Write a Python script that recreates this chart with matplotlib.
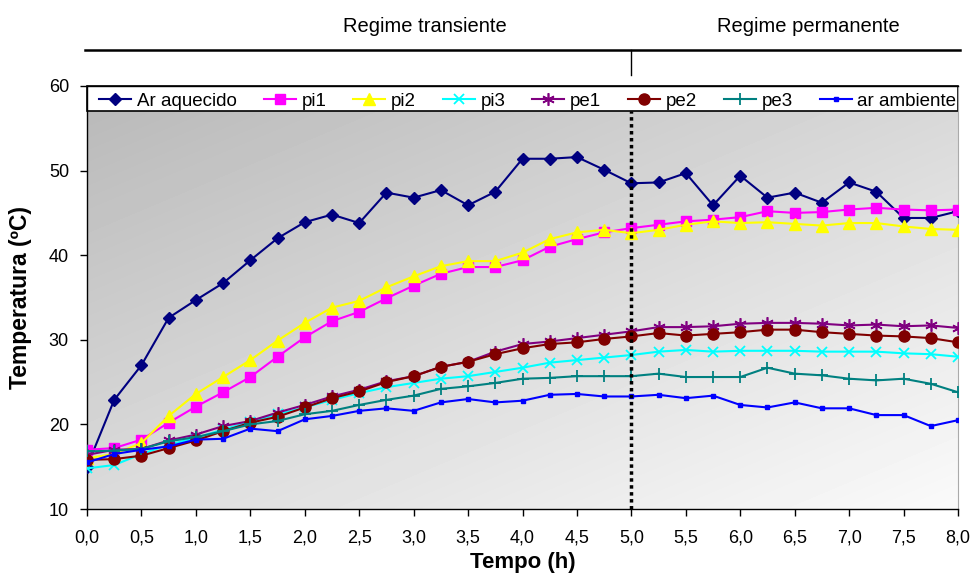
import numpy as np
import matplotlib
matplotlib.use("Agg")
import matplotlib.pyplot as plt
from matplotlib.lines import Line2D

plt.rcParams['font.family'] = ['Liberation Sans', 'DejaVu Sans']

tempo = [0.0, 0.25, 0.5, 0.75, 1.0, 1.25, 1.5, 1.75, 2.0, 2.25, 2.5, 2.75, 3.0, 3.25,
         3.5, 3.75, 4.0, 4.25, 4.5, 4.75, 5.0, 5.25, 5.5, 5.75, 6.0, 6.25, 6.5, 6.75,
         7.0, 7.25, 7.5, 7.75, 8.0]

ar_aquecido = [15.0, 22.9, 27.0, 32.6, 34.7, 36.7, 39.4, 42.0, 43.9, 44.8, 43.8, 47.4, 46.8,
               47.7, 45.9, 47.5, 51.4, 51.4, 51.6, 50.1, 48.5, 48.6, 49.7, 45.9, 49.4, 46.8,
               47.4, 46.2, 48.6, 47.5, 44.4, 44.4, 45.2]
pi1 = [17.0, 17.2, 18.2, 20.2, 22.1, 23.8, 25.6, 28.0, 30.3, 32.2, 33.3, 34.9, 36.4, 37.8,
       38.6, 38.6, 39.4, 41.0, 41.9, 42.7, 43.2, 43.6, 44.0, 44.2, 44.5, 45.2, 45.0, 45.1,
       45.4, 45.6, 45.4, 45.3, 45.4]
pi2 = [16.0, 16.5, 17.8, 21.0, 23.6, 25.6, 27.6, 29.9, 32.0, 33.8, 34.6, 36.2, 37.5, 38.7,
       39.3, 39.3, 40.3, 41.9, 42.7, 43.0, 42.6, 43.0, 43.6, 44.0, 43.8, 43.9, 43.7, 43.5,
       43.8, 43.8, 43.4, 43.1, 43.0]
pi3 = [14.8, 15.2, 16.5, 17.6, 18.4, 19.4, 20.3, 21.2, 22.0, 22.9, 23.7, 24.4, 24.9, 25.4,
       25.7, 26.2, 26.7, 27.3, 27.6, 27.9, 28.2, 28.6, 28.8, 28.6, 28.7, 28.7, 28.7, 28.6,
       28.6, 28.6, 28.4, 28.3, 28.0]
pe1 = [16.4, 17.0, 17.1, 18.1, 18.8, 19.8, 20.4, 21.4, 22.3, 23.3, 24.1, 25.1, 25.7, 26.8,
       27.4, 28.6, 29.5, 29.8, 30.2, 30.6, 31.0, 31.5, 31.5, 31.6, 31.9, 32.0, 32.0, 31.9,
       31.7, 31.8, 31.6, 31.7, 31.4]
pe2 = [15.8, 15.9, 16.3, 17.2, 18.1, 19.2, 20.2, 20.9, 22.0, 23.1, 23.9, 25.0, 25.7, 26.8,
       27.4, 28.3, 29.0, 29.5, 29.7, 30.1, 30.4, 30.8, 30.5, 30.7, 30.9, 31.2, 31.2, 30.9,
       30.7, 30.5, 30.4, 30.2, 29.7]
pe3 = [16.8, 16.9, 17.1, 18.0, 18.5, 19.2, 20.0, 20.4, 21.2, 21.6, 22.3, 22.9, 23.4, 24.2,
       24.5, 24.9, 25.4, 25.5, 25.7, 25.7, 25.7, 26.0, 25.6, 25.6, 25.6, 26.7, 26.0, 25.8,
       25.4, 25.2, 25.4, 24.8, 23.8]
ar_ambiente = [15.5, 16.5, 17.0, 17.4, 18.2, 18.3, 19.5, 19.2, 20.6, 21.0, 21.6, 21.9, 21.6,
               22.6, 23.0, 22.6, 22.8, 23.5, 23.6, 23.3, 23.3, 23.5, 23.1, 23.4, 22.3, 22.0,
               22.6, 21.9, 21.9, 21.1, 21.1, 19.8, 20.5]

series_names = ["Ar aquecido", "pi1", "pi2", "pi3", "pe1", "pe2", "pe3", "ar ambiente"]
x_ticks = [0.0, 0.5, 1.0, 1.5, 2.0, 2.5, 3.0, 3.5, 4.0, 4.5, 5.0, 5.5, 6.0, 6.5, 7.0, 7.5, 8.0]
y_ticks = [10, 20, 30, 40, 50, 60]
regime_labels = ["Regime transiente", "Regime permanente"]
regime_change = 5.0

fig = plt.figure(figsize=(9.74, 5.75), dpi=100)
ax = fig.add_axes([87/974, 1 - 509/575, 871/974, 423/575])

xmin, xmax, ymin, ymax = 0.0, 8.0, 10, 60
legend_bottom = 57.0

# gradient background: darker top-left, lighter bottom-right
nx, ny = 200, 120
xn = np.linspace(0, 1, nx)[None, :]
yn = np.linspace(0, 1, ny)[:, None]
g = 0.73 + 0.12 * xn + 0.13 * yn
ax.imshow(g, cmap='gray', vmin=0, vmax=1, extent=[xmin, xmax, 10, legend_bottom],
          origin='upper', aspect='auto', zorder=0, interpolation='bilinear')

styles = [
    dict(color='#000080', marker='D', ms=6.5),
    dict(color='#FF00FF', marker='s', ms=7.5),
    dict(color='#FFFF00', marker='^', ms=8.5),
    dict(color='#00FFFF', marker='x', ms=7, mew=1.3),
    dict(color='#800080', marker=(6, 2, 0), ms=9, mew=1.2),
    dict(color='#800000', marker='o', ms=8),
    dict(color='#008080', marker='+', ms=9, mew=1.3),
    dict(color='#0000FF', marker='s', ms=2.5),
]
data = [ar_aquecido, pi1, pi2, pi3, pe1, pe2, pe3, ar_ambiente]
handles = []
for name, vals, st in zip(series_names, data, styles):
    h, = ax.plot(tempo, vals, lw=1.5, label=name, zorder=3, **st)
    handles.append(h)

ax.axvline(regime_change, ymin=0, ymax=(legend_bottom - ymin) / (ymax - ymin),
           color='black', ls=(0, (1, 1)), lw=2.5, zorder=4)

ax.set_xlim(xmin, xmax)
ax.set_ylim(ymin, ymax)
ax.set_xticks(x_ticks)
ax.set_xticklabels([f"{v:.1f}".replace('.', ',') for v in x_ticks])
ax.set_yticks(y_ticks)
ax.tick_params(direction='out', length=5, width=1, labelsize=13, pad=8)
ax.tick_params(axis='x', pad=10)
for s in ['left', 'bottom', 'top']:
    ax.spines[s].set_color('black')
    ax.spines[s].set_linewidth(1)
ax.spines['right'].set_color('#aaaaaa')

leg = ax.legend(handles=handles, loc='lower left',
                bbox_to_anchor=(0.012, (legend_bottom - ymin) / (ymax - ymin), 0.988,
                                (ymax - legend_bottom) / (ymax - ymin)),
                mode='expand', ncol=8, fontsize=13.5, frameon=False,
                borderaxespad=0, handlelength=1.7, handletextpad=0.3,
                columnspacing=0.8, borderpad=0.1)
ax.add_patch(plt.Rectangle((xmin, legend_bottom), xmax - xmin, ymax - legend_bottom,
                           facecolor='white', edgecolor='black', lw=1.2, zorder=2.5,
                           clip_on=False))

ax.set_xlabel("Tempo (h)", fontsize=16, fontweight='bold', labelpad=4)
ax.set_ylabel("Temperatura (ºC)", fontsize=16.5, fontweight='bold', labelpad=12)

# regime header
fig.add_artist(Line2D([85/974, 960/974], [1 - 50/575, 1 - 50/575], color='black', lw=1.8))
xc = ax.transData.transform((regime_change, 0))[0]
xf = fig.transFigure.inverted().transform((xc, 0))[0]
fig.add_artist(Line2D([xf, xf], [1 - 50/575, 1 - 75/575], color='black', lw=1))
fig.text(425/974, 1 - 27/575, regime_labels[0], ha='center', va='center', fontsize=14.5)
fig.text(808/974, 1 - 27/575, regime_labels[1], ha='center', va='center', fontsize=14.5)

fig.savefig("out.png", dpi=100)
